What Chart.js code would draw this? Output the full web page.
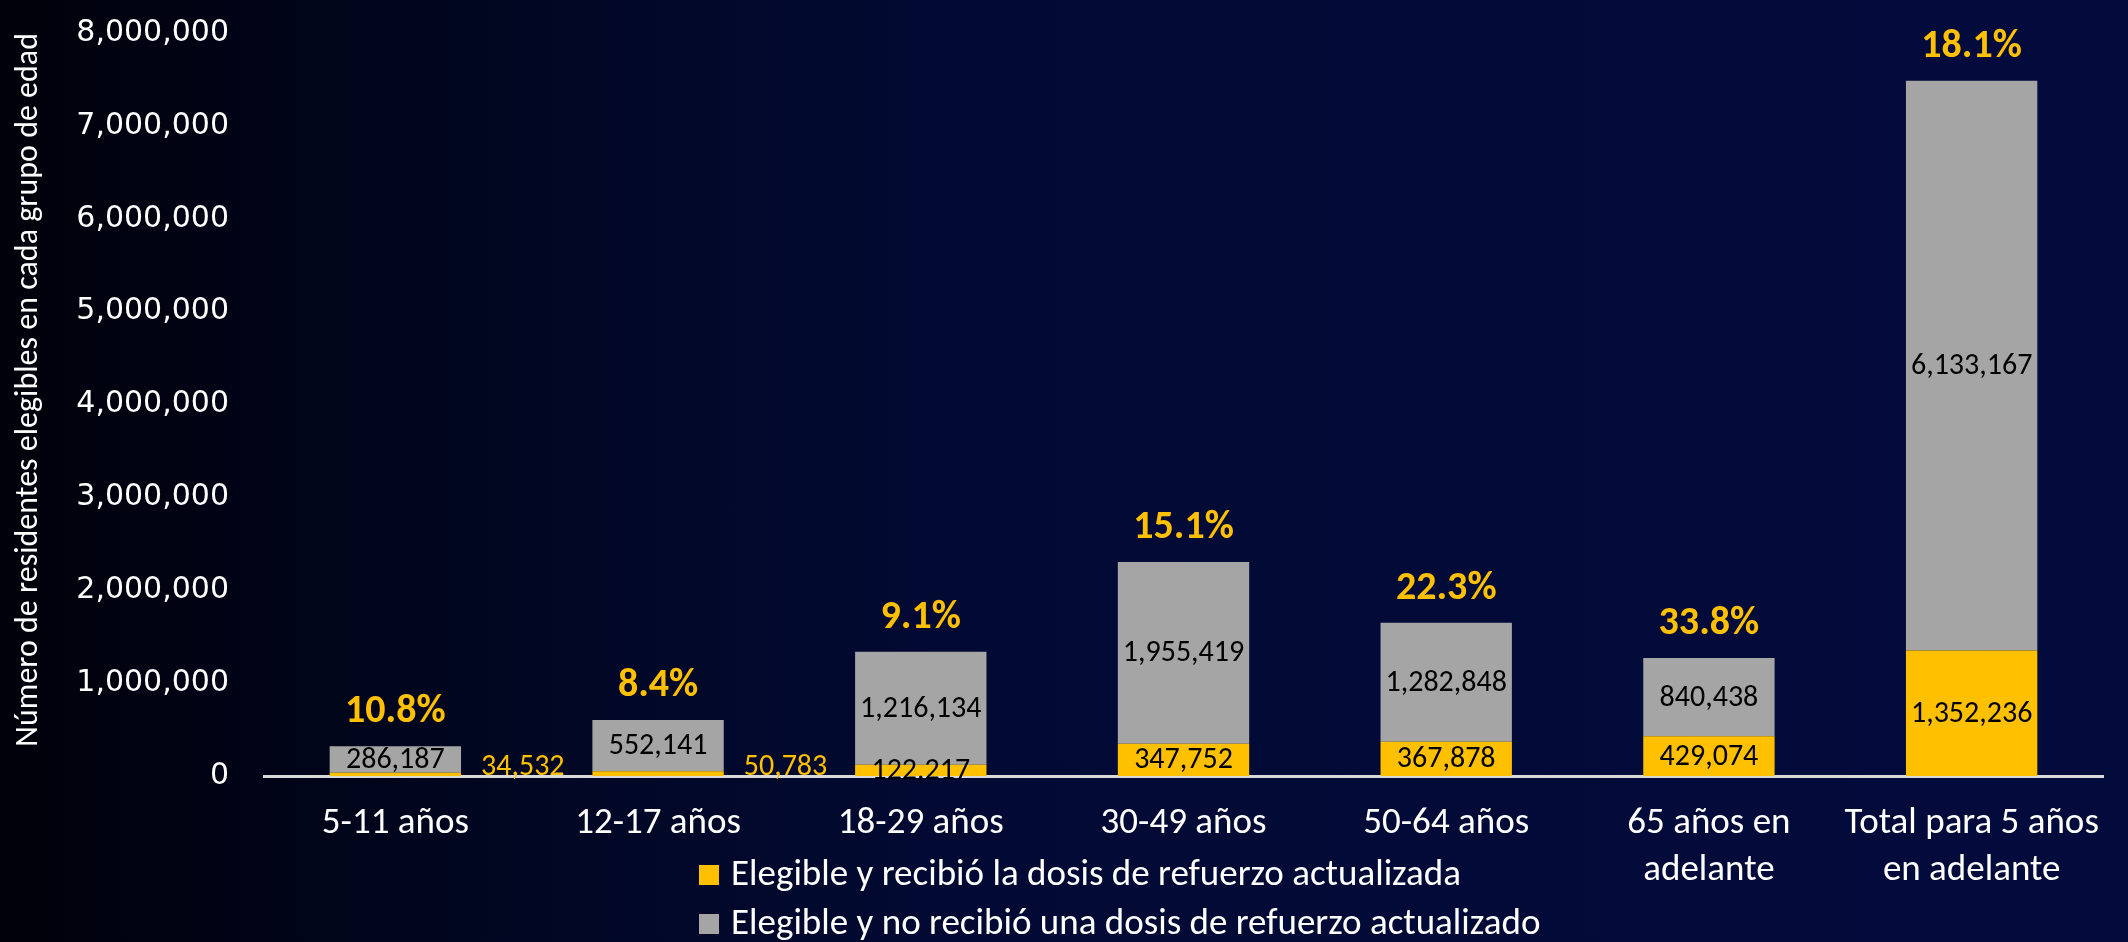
<!DOCTYPE html>
<html>
<head>
<meta charset="utf-8">
<script src="https://cdn.jsdelivr.net/npm/chart.js@4.4.1/dist/chart.umd.min.js"></script>
<style>
  html, body { margin: 0; padding: 0; }
  body {
    width: 2128px; height: 942px; overflow: hidden;
    background: linear-gradient(90deg, #00010a 0%, #010620 22%, #020a34 45%, #020b3c 100%);
  }
</style>
</head>
<body>
<canvas id="chart" width="2128" height="942"></canvas>
<script>
// data
var categories = [["5-11 años"], ["12-17 años"], ["18-29 años"], ["30-49 años"], ["50-64 años"],
                  ["65 años en", "adelante"], ["Total para 5 años", "en adelante"]];
var recibio = [34532, 50783, 122217, 347752, 367878, 429074, 1352236];
var noRecibio = [286187, 552141, 1216134, 1955419, 1282848, 840438, 6133167];
var porcentajes = [10.8, 8.4, 9.1, 15.1, 22.3, 33.8, 18.1];
var yTicks = [0, 1000000, 2000000, 3000000, 4000000, 5000000, 6000000, 7000000, 8000000];
var seriesNames = ["Elegible y recibió la dosis de refuerzo actualizada",
                   "Elegible y no recibió una dosis de refuerzo actualizado"];

var NARROW = 'Carlito, "Liberation Sans Narrow", "DejaVu Sans Condensed", sans-serif';
var YELLOW = '#FFC000';
var GRAY = '#A5A5A5';

function fmt(v) { return v.toLocaleString('en-US'); }

var barLabels = {
  id: 'barLabels',
  afterDatasetsDraw: function(chart) {
    var ctx = chart.ctx;
    var metaY = chart.getDatasetMeta(0), metaG = chart.getDatasetMeta(1);
    ctx.save();
    ctx.font = '30px ' + NARROW;
    ctx.textBaseline = 'middle';
    metaY.data.forEach(function(bar, i) {
      var h = Math.abs(bar.base - bar.y);
      if (h < 8) {
        // too thin, label goes beside the bar
        ctx.fillStyle = YELLOW;
        ctx.textAlign = 'left';
        ctx.textBaseline = 'alphabetic';
        ctx.fillText(fmt(recibio[i]), bar.x + bar.width / 2 + 20, bar.base - 1);
        ctx.textBaseline = 'middle';
      } else {
        ctx.fillStyle = '#000';
        ctx.textAlign = 'center';
        ctx.fillText(fmt(recibio[i]), bar.x, (bar.y + bar.base) / 2 + 1);
      }
    });
    metaG.data.forEach(function(bar, i) {
      ctx.fillStyle = '#000';
      ctx.textAlign = 'center';
      ctx.fillText(fmt(noRecibio[i]), bar.x, (bar.y + bar.base) / 2 + 1);
    });
    // percentage on top of each stack
    ctx.font = 'bold 40px ' + NARROW;
    ctx.fillStyle = YELLOW;
    metaG.data.forEach(function(bar, i) {
      ctx.fillText(porcentajes[i].toFixed(1) + '%', bar.x, bar.y - 34);
    });
    ctx.restore();
  }
};

var stackedLegend = {
  id: 'stackedLegend',
  afterDraw: function(chart) {
    var ctx = chart.ctx, area = chart.chartArea;
    var x0 = area.left + 435;
    ctx.save();
    ctx.font = '37px ' + NARROW;
    ctx.textAlign = 'left';
    ctx.textBaseline = 'middle';
    chart.data.datasets.forEach(function(ds, i) {
      var cy = area.bottom + 99 + i * 49;
      ctx.fillStyle = ds.backgroundColor;
      ctx.fillRect(x0, cy - 10, 20, 20);
      ctx.fillStyle = '#fff';
      ctx.fillText(ds.label, x0 + 32, cy + 1);
    });
    ctx.restore();
  }
};

new Chart(document.getElementById('chart'), {
  type: 'bar',
  data: {
    labels: categories,
    datasets: [
      { label: seriesNames[0], data: recibio, backgroundColor: YELLOW },
      { label: seriesNames[1], data: noRecibio, backgroundColor: GRAY }
    ]
  },
  options: {
    responsive: false,
    animation: false,
    devicePixelRatio: 1,
    layout: { padding: { top: 33, right: 25, left: 0, bottom: 0 } },
    datasets: { bar: { categoryPercentage: 1, barPercentage: 0.5 } },
    plugins: { legend: { display: false }, tooltip: { enabled: false } },
    scales: {
      x: {
        stacked: true,
        grid: { display: false, drawTicks: false },
        border: { display: true, color: '#D9D9D9', width: 3 },
        ticks: {
          color: '#fff', autoSkip: false, maxRotation: 0, padding: 25,
          font: { family: NARROW, size: 37, lineHeight: 1.25 }
        },
        afterFit: function(s) { s.height = 166; }
      },
      y: {
        stacked: true,
        min: 0, max: 8000000,
        grid: { display: false, drawTicks: false },
        border: { display: false },
        afterBuildTicks: function(s) { s.ticks = yTicks.map(function(v) { return { value: v }; }); },
        ticks: {
          color: '#fff', padding: 35,
          font: { family: '"DejaVu Sans", Verdana, sans-serif', size: 30 },
          callback: function(v) { return fmt(v); }
        },
        title: {
          display: true, align: 'end', color: '#fff',
          text: 'Número de residentes elegibles en cada grupo de edad',
          font: { family: NARROW, size: 32 },
          padding: { top: 10, bottom: 0 }
        },
        afterFit: function(s) {
          s.width = 264;
          s.paddingTop = 0;
          s.paddingBottom = 0;
        }
      }
    }
  },
  plugins: [barLabels, stackedLegend]
});
</script>
</body>
</html>
